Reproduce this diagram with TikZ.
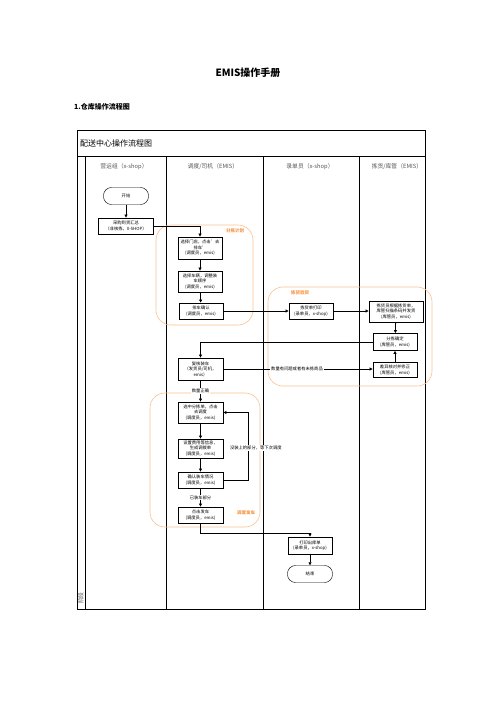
\documentclass[tikz,border=0pt]{standalone}
\usepackage{fontspec}
\setmainfont{Noto Sans CJK SC}
\usetikzlibrary{arrows.meta,positioning}
\definecolor{zoneline}{HTML}{FAC090}
\definecolor{zonetext}{HTML}{F79646}
\definecolor{lanetext}{HTML}{555555}
\tikzset{
  box/.style={draw, line width=0.8pt, fill=white, font=\fontsize{4.3}{5.4}\selectfont, align=center, inner sep=0.5pt, minimum width=44pt},
  term/.style={draw, line width=0.45pt, rounded corners=8pt, fill=white, font=\fontsize{4.3}{5.4}\selectfont, minimum width=45pt, minimum height=17pt},
  arr/.style={-{Triangle[length=3pt,width=3pt]}, line width=0.8pt},
  zone/.style={draw=zoneline, rounded corners=15pt, line width=0.6pt},
  zlabel/.style={text=zonetext, font=\bfseries\fontsize{4.5}{5.5}\selectfont, inner sep=0.5pt},
  lane/.style={line width=0.7pt},
  lanelabel/.style={text=lanetext, font=\fontsize{5.8}{7}\selectfont, inner sep=0pt},
  elabel/.style={fill=white, font=\fontsize{4.3}{5.4}\selectfont, inner sep=0.8pt}
}
\begin{document}
\begin{tikzpicture}[x=1pt,y=-1pt]
\useasboundingbox (0,0) rectangle (496,702);
\node[font=\bfseries\fontsize{10}{12}\selectfont] (title) at (248,73) {EMIS操作手册};
\node[font=\bfseries\fontsize{7}{8}\selectfont, anchor=west, inner sep=0pt] (sub) at (74,107) {1.仓库操作流程图};
% frame
\draw[lane] (77,130) rectangle (425,609);
\draw[lane] (77,156) -- (425,156);
\draw[lane] (85,156) -- (85,609);
\draw[lane] (166,156) -- (166,609);
\draw[lane] (263,156) -- (263,609);
\draw[lane] (359,156) -- (359,609);
\node[anchor=west, font=\fontsize{8}{9}\selectfont, inner sep=0pt] (hdr) at (80,143) {配送中心操作流程图};
\node[lanelabel] (l1) at (124,167) {营运组（x-shop）};
\node[lanelabel] (l2) at (213,167) {调度/司机（EMIS）};
\node[lanelabel] (l3) at (310,167) {录单员（x-shop）};
\node[lanelabel] (l4) at (397,167) {拣货/库管（EMIS）};
\node[lanelabel, rotate=90] (stage) at (81,598) {阶段};
% zones
\draw[zone] (156,225) rectangle (253,325);
\draw[zone] (268,287) rectangle (432,386);
\draw[zone] (150,393) rectangle (260,527);
\node[zlabel] (z1) at (235,231) {分拣计划};
\node[zlabel] (z2) at (300,293) {拣货验货};
\node[zlabel] (z3) at (246,513) {调度发车};
% nodes
\node[term] (start) at (126,196) {开始};
\node[box, minimum width=55pt, minimum height=16pt] (a) at (126,226) {采购到货汇总\\（非核拣，X-SHOP）};
\node[box, minimum height=22pt] (b) at (200,248) {选择门店，点击'去\\排车'\\(调度员，emis)};
\node[box, minimum height=21pt] (c) at (200,281.5) {选择车辆，调整装\\车顺序\\(调度员，emis)};
\node[box, minimum height=16pt] (d) at (201,311) {排车确认\\(调度员，emis)};
\node[box, minimum height=16pt] (e) at (311,311) {拣货单打印\\(录单员，x-shop)};
\node[box, minimum width=54pt, minimum height=21pt] (f) at (396,311.5) {拣货员根据拣货单，\\库管扫描条码并发货\\(库管员，emis)};
\node[box, minimum height=17pt] (g) at (395,342) {分拣确定\\(库管员，emis)};
\node[box, minimum height=15pt] (h) at (395,370) {差异核对并修正\\(库管员，emis)};
\node[box, minimum width=45pt, minimum height=22pt] (i) at (200.5,369) {复核装车\\（发货员/司机，\\emis）};
\node[box, minimum width=45pt, minimum height=21pt] (j) at (200.5,412.5) {选中分拣单，点击\\去调度\\(调度员，emis)};
\node[box, minimum width=45pt, minimum height=19pt] (k) at (200.5,448.5) {设置费用等信息，\\生成调拨单\\(调度员，emis)};
\node[box, minimum width=45pt, minimum height=16pt] (l) at (200.5,480) {确认装车情况\\(调度员，emis)};
\node[box, minimum width=45pt, minimum height=16pt] (m) at (200.5,515) {点击发车\\(调度员，emis)};
\node[box, minimum height=17pt] (n) at (310,545.5) {打印出库单\\(录单员，x-shop)};
\node[term] (o) at (310,574) {结束};
\coordinate (loopx) at (248,0);
\coordinate (lowy) at (0,533);
% connectors
\draw[arr] (start) -- (a);
\draw[arr] (a.east) -| (b.north);
\draw[arr] (b) -- (c);
\draw[arr] (c) -- (d);
\draw[arr] (d.east) -- (d.east -| e.west);
\draw[arr] (e.east) -- (e.east -| f.west);
\draw[arr] (f) -- (g);
\draw[arr] (h) -- (g);
\draw[arr] (g.west) -| (i.north);
\draw[arr] (i.east) -- (i.east -| h.west);
\node[elabel] (lab1) at (297,369) {数量有问题或者有未拣商品};
\draw[arr] (i) -- node[elabel] (lab2) {数量正确} (j);
\draw[arr] (j) -- (k);
\draw[arr] (k) -- (l);
\draw[arr] (l) -- node[elabel] (lab3) {已装车部分} (m);
\draw[arr] (l.east) -- (l.east -| loopx) |- (j.east);
\node[elabel, anchor=west] (lab4) at (229,448) {没装上的部分，等下次调度};
\draw[arr] (m.south) -- (m.south |- lowy) -| (n.north);
\draw[arr] (n) -- (o);
\end{tikzpicture}
\end{document}
